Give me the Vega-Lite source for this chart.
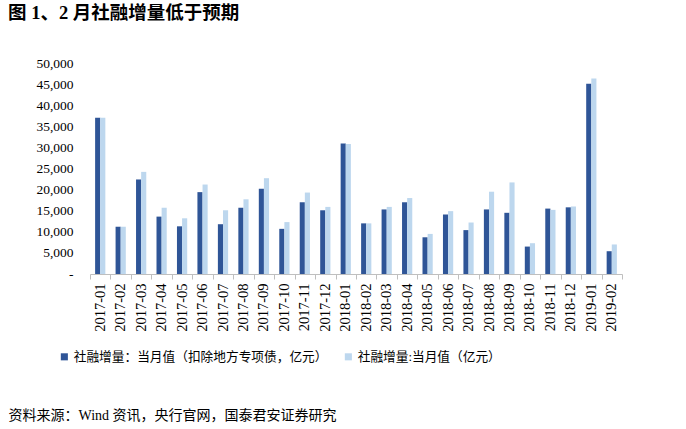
{
  "$schema": "https://vega.github.io/schema/vega-lite/v6.json",
  "autosize": {"type": "none"},
  "padding": {"left": 90, "top": 63, "right": 64, "bottom": 155},
  "width": 532,
  "height": 211,
  "background": "white",
  "title": {
    "text": "图 1、2 月社融增量低于预期",
    "anchor": "start",
    "frame": "group",
    "dx": -82,
    "offset": 34,
    "font": "Liberation Serif, Noto Sans CJK SC",
    "fontSize": 18.5,
    "fontWeight": "bold",
    "color": "#000000"
  },
  "data": {
    "values": [
      {"month": "2017-01", "series": "社融增量：当月值（扣除地方专项债，亿元）", "value": 37000},
      {"month": "2017-01", "series": "社融增量:当月值（亿元）", "value": 37000},
      {"month": "2017-02", "series": "社融增量：当月值（扣除地方专项债，亿元）", "value": 11200},
      {"month": "2017-02", "series": "社融增量:当月值（亿元）", "value": 11200},
      {"month": "2017-03", "series": "社融增量：当月值（扣除地方专项债，亿元）", "value": 22400},
      {"month": "2017-03", "series": "社融增量:当月值（亿元）", "value": 24200},
      {"month": "2017-04", "series": "社融增量：当月值（扣除地方专项债，亿元）", "value": 13600},
      {"month": "2017-04", "series": "社融增量:当月值（亿元）", "value": 15700},
      {"month": "2017-05", "series": "社融增量：当月值（扣除地方专项债，亿元）", "value": 11300},
      {"month": "2017-05", "series": "社融增量:当月值（亿元）", "value": 13200},
      {"month": "2017-06", "series": "社融增量：当月值（扣除地方专项债，亿元）", "value": 19400},
      {"month": "2017-06", "series": "社融增量:当月值（亿元）", "value": 21200},
      {"month": "2017-07", "series": "社融增量：当月值（扣除地方专项债，亿元）", "value": 11800},
      {"month": "2017-07", "series": "社融增量:当月值（亿元）", "value": 15100},
      {"month": "2017-08", "series": "社融增量：当月值（扣除地方专项债，亿元）", "value": 15700},
      {"month": "2017-08", "series": "社融增量:当月值（亿元）", "value": 17700},
      {"month": "2017-09", "series": "社融增量：当月值（扣除地方专项债，亿元）", "value": 20200},
      {"month": "2017-09", "series": "社融增量:当月值（亿元）", "value": 22700},
      {"month": "2017-10", "series": "社融增量：当月值（扣除地方专项债，亿元）", "value": 10700},
      {"month": "2017-10", "series": "社融增量:当月值（亿元）", "value": 12300},
      {"month": "2017-11", "series": "社融增量：当月值（扣除地方专项债，亿元）", "value": 17000},
      {"month": "2017-11", "series": "社融增量:当月值（亿元）", "value": 19300},
      {"month": "2017-12", "series": "社融增量：当月值（扣除地方专项债，亿元）", "value": 15100},
      {"month": "2017-12", "series": "社融增量:当月值（亿元）", "value": 15900},
      {"month": "2018-01", "series": "社融增量：当月值（扣除地方专项债，亿元）", "value": 30900},
      {"month": "2018-01", "series": "社融增量:当月值（亿元）", "value": 30800},
      {"month": "2018-02", "series": "社融增量：当月值（扣除地方专项债，亿元）", "value": 12000},
      {"month": "2018-02", "series": "社融增量:当月值（亿元）", "value": 12000},
      {"month": "2018-03", "series": "社融增量：当月值（扣除地方专项债，亿元）", "value": 15300},
      {"month": "2018-03", "series": "社融增量:当月值（亿元）", "value": 15900},
      {"month": "2018-04", "series": "社融增量：当月值（扣除地方专项债，亿元）", "value": 17000},
      {"month": "2018-04", "series": "社融增量:当月值（亿元）", "value": 18000},
      {"month": "2018-05", "series": "社融增量：当月值（扣除地方专项债，亿元）", "value": 8700},
      {"month": "2018-05", "series": "社融增量:当月值（亿元）", "value": 9500},
      {"month": "2018-06", "series": "社融增量：当月值（扣除地方专项债，亿元）", "value": 14100},
      {"month": "2018-06", "series": "社融增量:当月值（亿元）", "value": 14900},
      {"month": "2018-07", "series": "社融增量：当月值（扣除地方专项债，亿元）", "value": 10400},
      {"month": "2018-07", "series": "社融增量:当月值（亿元）", "value": 12200},
      {"month": "2018-08", "series": "社融增量：当月值（扣除地方专项债，亿元）", "value": 15300},
      {"month": "2018-08", "series": "社融增量:当月值（亿元）", "value": 19500},
      {"month": "2018-09", "series": "社融增量：当月值（扣除地方专项债，亿元）", "value": 14500},
      {"month": "2018-09", "series": "社融增量:当月值（亿元）", "value": 21700},
      {"month": "2018-10", "series": "社融增量：当月值（扣除地方专项债，亿元）", "value": 6500},
      {"month": "2018-10", "series": "社融增量:当月值（亿元）", "value": 7300},
      {"month": "2018-11", "series": "社融增量：当月值（扣除地方专项债，亿元）", "value": 15500},
      {"month": "2018-11", "series": "社融增量:当月值（亿元）", "value": 15200},
      {"month": "2018-12", "series": "社融增量：当月值（扣除地方专项债，亿元）", "value": 15800},
      {"month": "2018-12", "series": "社融增量:当月值（亿元）", "value": 16000},
      {"month": "2019-01", "series": "社融增量：当月值（扣除地方专项债，亿元）", "value": 45100},
      {"month": "2019-01", "series": "社融增量:当月值（亿元）", "value": 46300},
      {"month": "2019-02", "series": "社融增量：当月值（扣除地方专项债，亿元）", "value": 5400},
      {"month": "2019-02", "series": "社融增量:当月值（亿元）", "value": 7000}
    ]
  },
  "mark": {"type": "bar"},
  "encoding": {
    "x": {
      "field": "month",
      "type": "nominal",
      "sort": null,
      "scale": {"paddingInner": 0, "paddingOuter": 0},
      "axis": {
        "title": "资料来源：Wind 资讯，央行官网，国泰君安证券研究",
        "titleFont": "Liberation Serif, Noto Sans CJK SC",
        "titleFontSize": 14,
        "titleFontWeight": "normal",
        "titleColor": "#000000",
        "titleAnchor": "start",
        "titleAlign": "left",
        "titleBaseline": "middle",
        "titleX": -82,
        "titleY": 141,
        "labelAngle": 270,
        "labelAlign": "right",
        "labelBaseline": "middle",
        "labelFont": "Liberation Serif",
        "labelFontSize": 14.5,
        "labelColor": "#000000",
        "labelPadding": 4,
        "domainColor": "#BFBFBF",
        "tickColor": "#BFBFBF",
        "tickSize": 5,
        "tickBand": "extent",
        "grid": false
      }
    },
    "xOffset": {
      "field": "series",
      "type": "nominal",
      "sort": ["社融增量：当月值（扣除地方专项债，亿元）", "社融增量:当月值（亿元）"],
      "scale": {"paddingInner": 0, "paddingOuter": 1}
    },
    "y": {
      "field": "value",
      "type": "quantitative",
      "scale": {"domain": [0, 50000], "nice": false},
      "axis": {
        "title": null,
        "values": [0, 5000, 10000, 15000, 20000, 25000, 30000, 35000, 40000, 45000, 50000],
        "labelExpr": "datum.value === 0 ? '-' : format(datum.value, ',')",
        "labelFont": "Liberation Serif",
        "labelFontSize": 13.5,
        "labelColor": "#000000",
        "labelPadding": 17,
        "ticks": false,
        "domain": false,
        "grid": false
      }
    },
    "color": {
      "field": "series",
      "type": "nominal",
      "sort": ["社融增量：当月值（扣除地方专项债，亿元）", "社融增量:当月值（亿元）"],
      "scale": {"range": ["#2F5597", "#BDD7EE"]},
      "legend": {
        "title": null,
        "orient": "none",
        "legendX": -32,
        "legendY": 287,
        "direction": "horizontal",
        "columns": 2,
        "columnPadding": 14,
        "symbolType": "square",
        "symbolSize": 50,
        "symbolStrokeWidth": 0,
        "labelFont": "Liberation Serif, Noto Sans CJK SC",
        "labelFontSize": 12.7,
        "labelColor": "#000000",
        "labelOffset": 3,
        "labelLimit": 0
      }
    }
  },
  "config": {"view": {"stroke": null}}
}
